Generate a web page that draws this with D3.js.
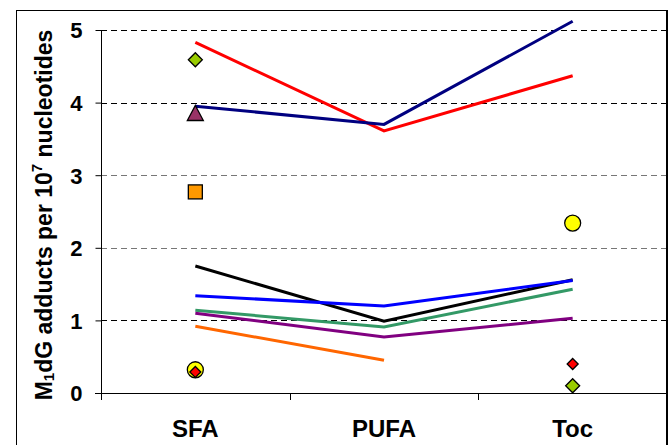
<!DOCTYPE html>
<html><head><meta charset="utf-8">
<script src="https://cdn.jsdelivr.net/npm/d3@7"></script>
<style>body{margin:0;background:#fff}svg{display:block}text{font-family:Arial,"Liberation Sans",sans-serif;font-weight:bold}</style>
</head><body>
<svg id="c" width="670" height="445"></svg>
<script>
const categories = ["SFA", "PUFA", "Toc"];
const yTicks = [0, 1, 2, 3, 4, 5];
const redLine    = [4.83, 3.61, 4.37];
const navyLine   = [3.95, 3.70, 5.12];
const blackLine  = [1.75, 0.99, 1.56];
const blueLine   = [1.34, 1.20, 1.55];
const greenLine  = [1.14, 0.91, 1.43];
const purpleLine = [1.10, 0.77, 1.03];
const orangeLine = [0.92, 0.45, null];
const greenDiamond = [4.59, null, 0.10];
const triangle     = [3.85, null, null];
const square       = [2.77, null, null];
const yellowCircle = [0.32, null, 2.34];
const redDiamond   = [0.29, null, 0.40];

const lines = [
  {v: redLine, c: "#FF0000"}, {v: navyLine, c: "#000080"}, {v: blackLine, c: "#000000"},
  {v: blueLine, c: "#0000FF"}, {v: greenLine, c: "#339966"}, {v: purpleLine, c: "#800080"},
  {v: orangeLine, c: "#FF6600"}
];

const svg = d3.select("#c");
const x = d3.scaleBand().domain(categories).range([101, 667]);
const y = d3.scaleLinear().domain([0, 5]).range([393, 30]);
const cx = c => x(c) + x.bandwidth() / 2;

// outer border
svg.append("rect").attr("x", 16.5).attr("y", 10.5).attr("width", 650).attr("height", 450)
  .attr("fill", "none").attr("stroke", "#000").attr("stroke-width", 1);

// gridlines
const gridColor = {5: "#000", 4: "#000", 3: "#777", 2: "#777", 1: "#000"};
svg.append("g").selectAll("line").data(yTicks.filter(d => d > 0)).join("line")
  .attr("x1", 101).attr("x2", 667).attr("y1", d => Math.round(y(d)) + 0.5).attr("y2", d => Math.round(y(d)) + 0.5)
  .attr("stroke", d => gridColor[d]).attr("stroke-width", 1).attr("stroke-dasharray", "6,4");

// right plot border
svg.append("line").attr("x1", 667).attr("x2", 667).attr("y1", 10).attr("y2", 445)
  .attr("stroke", "#000").attr("stroke-width", 2);

// y axis
const yAxis = d3.axisLeft(y).tickValues(yTicks).tickSize(6).tickFormat(d3.format("d"));
const gy = svg.append("g").attr("transform", "translate(101.5,0)").call(yAxis);
gy.select(".domain").attr("d", "M0,30V399");
gy.selectAll("text").attr("font-size", 22).attr("font-family", "Arial, 'Liberation Sans', sans-serif")
  .attr("font-weight", "bold").attr("x", -19).attr("dy", "0.36em").attr("fill", "#000");

// x axis
const xAxis = d3.axisBottom(x).tickSize(0).tickFormat("");
const gx = svg.append("g").attr("transform", "translate(0,393.5)").call(xAxis);
gx.select(".domain").attr("d", "M95,0H667");
const bounds = [101, ...categories.map(c => x(c) + x.bandwidth())];
svg.append("g").selectAll("line").data(bounds).join("line")
  .attr("x1", d => Math.round(d) + 0.5).attr("x2", d => Math.round(d) + 0.5).attr("y1", 393).attr("y2", 400)
  .attr("stroke", "#000");
svg.append("g").selectAll("text").data(categories).join("text")
  .attr("x", d => cx(d)).attr("y", 437).attr("text-anchor", "middle").attr("font-size", 24).text(d => d);

// y label
const yl = svg.append("text").attr("transform", "translate(52,215) rotate(-90)")
  .attr("text-anchor", "middle").attr("font-size", 23);
yl.append("tspan").text("M");
yl.append("tspan").attr("font-size", 15).attr("dy", 2).text("1");
yl.append("tspan").attr("dy", -2).text("dG adducts per 10");
yl.append("tspan").attr("font-size", 15).attr("dy", -10).text("7");
yl.append("tspan").attr("dy", 10).text(" nucleotides");

// lines
const line = d3.line().defined(d => d.v != null).x(d => cx(d.c)).y(d => y(d.v));
svg.append("g").selectAll("path").data(lines).join("path")
  .attr("d", s => line(categories.map((c, i) => ({c, v: s.v[i]}))))
  .attr("fill", "none").attr("stroke", s => s.c).attr("stroke-width", 3);

// markers
const pts = (arr) => categories.map((c, i) => ({c, v: arr[i]})).filter(d => d.v != null);
const mg = svg.append("g").attr("stroke", "#000").attr("stroke-width", 1.3);
mg.selectAll(".sq").data(pts(square)).join("rect")
  .attr("x", d => cx(d.c) - 7).attr("y", d => y(d.v) - 7).attr("width", 14).attr("height", 14).attr("fill", "#FF9900");
mg.selectAll(".tri").data(pts(triangle)).join("path")
  .attr("d", d => { const X = cx(d.c), Y = y(d.v); return `M${X},${Y-8}L${X+8},${Y+7}L${X-8},${Y+7}Z`; })
  .attr("fill", "#993366");
mg.selectAll(".gd").data(pts(greenDiamond)).join("path")
  .attr("d", d => { const X = cx(d.c), Y = y(d.v), r = 7; return `M${X},${Y-r}L${X+r},${Y}L${X},${Y+r}L${X-r},${Y}Z`; })
  .attr("fill", "#99CC00");
mg.selectAll(".yc").data(pts(yellowCircle)).join("circle")
  .attr("cx", d => cx(d.c)).attr("cy", d => y(d.v)).attr("r", 8).attr("fill", "#FFFF00");
mg.selectAll(".rd").data(pts(redDiamond)).join("path")
  .attr("d", d => { const X = cx(d.c), Y = y(d.v), r = 5.5; return `M${X},${Y-r}L${X+r},${Y}L${X},${Y+r}L${X-r},${Y}Z`; })
  .attr("fill", "#FF0000");
</script>
</body></html>
